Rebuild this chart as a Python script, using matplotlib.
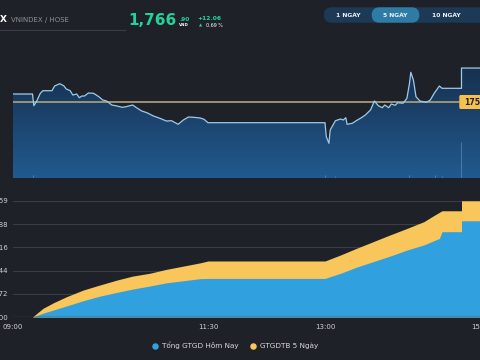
import matplotlib
matplotlib.use("Agg")
import matplotlib.pyplot as plt
import numpy as np
from matplotlib.colors import LinearSegmentedColormap
from matplotlib.patches import FancyBboxPatch

# ---- data -------------------------------------------------------------
# intraday VNINDEX (time, index points)
price_times = ["09:00", "09:15", "09:16", "09:18", "09:21", "09:23", "09:30", "09:32", "09:36",
               "09:39", "09:41", "09:44", "09:46", "09:49", "09:51", "09:53", "09:55", "09:58",
               "10:02", "10:06", "10:09", "10:12", "10:16", "10:20", "10:24", "10:27", "10:32",
               "10:35", "10:39", "10:43", "10:48", "10:53", "10:58", "11:02", "11:07", "11:11",
               "11:15", "11:19", "11:24", "11:27", "11:30", "13:00", "13:01", "13:02", "13:03",
               "13:04", "13:08", "13:12", "13:14", "13:16", "13:17", "13:21", "13:24", "13:28",
               "13:31", "13:35", "13:38", "13:41", "13:44", "13:46", "13:49", "13:51", "13:54",
               "13:56", "14:00", "14:03", "14:05", "14:06", "14:08", "14:10", "14:13", "14:18",
               "14:21", "14:24", "14:28", "14:30", "14:45", "14:45", "15:00"]
price_values = [1757.60, 1757.60, 1753.41, 1754.84, 1757.85, 1758.78, 1758.78, 1760.47, 1761.29,
                1760.57, 1759.39, 1758.78, 1757.24, 1757.60, 1756.27, 1756.88, 1756.88, 1757.96,
                1757.85, 1756.63, 1755.45, 1755.09, 1753.66, 1753.30, 1752.83, 1753.05, 1753.66,
                1752.69, 1751.51, 1750.90, 1749.72, 1748.89, 1747.92, 1748.03, 1746.74, 1748.28,
                1749.36, 1749.25, 1749.00, 1748.53, 1747.31, 1747.31, 1742.30, 1741.11, 1739.93,
                1744.70, 1748.03, 1748.64, 1748.28, 1749.11, 1746.74, 1747.10, 1748.03, 1749.11,
                1750.07, 1751.87, 1755.09, 1753.41, 1752.69, 1753.66, 1752.69, 1754.02, 1753.55,
                1754.48, 1754.27, 1756.06, 1761.43, 1765.38, 1762.62, 1756.63, 1755.09, 1754.62,
                1755.45, 1757.85, 1760.47, 1759.64, 1759.64, 1766.90, 1766.90]
ref_price = 1754.84

vol_times = ["09:15", "13:00", "13:08", "14:05", "14:25", "14:30", "14:45"]
vol_values = [3, 3, 2, 3, 3, 2, 36]

# cumulative traded value (bn VND)
avg5_times = ["09:00", "09:15", "09:23", "09:31", "09:41", "09:54", "10:07", "10:20", "10:32",
              "10:45", "10:58", "11:11", "11:24", "11:30", "13:00", "13:12", "13:24", "13:37",
              "13:50", "14:03", "14:16", "14:23", "14:30", "14:45", "14:45", "15:00"]
avg5_values = [0, 0, 2358, 3887, 5543, 7391, 8793, 10131, 11214,
               11979, 13062, 13954, 14846, 15356, 15356, 17012, 18797, 20644,
               22492, 24276, 26124, 27653, 29119, 29119, 31858.594, 31858.594]

today_times = ["09:00", "09:15", "09:23", "09:31", "09:41", "09:54", "10:07", "10:20", "10:32",
               "10:45", "10:58", "11:11", "11:24", "11:30", "13:00", "13:12", "13:24", "13:37",
               "13:50", "14:03", "14:16", "14:25", "14:28", "14:30", "14:45", "14:45", "15:00"]
today_values = [0, 0, 1019, 1912, 2995, 4460, 5735, 6754, 7646,
                8475, 9366, 9940, 10513, 10577, 10577, 11979, 13635, 15165,
                16694, 18351, 19752, 21090, 21536, 23385, 23385, 26379, 26379]

x_tick_labels = ["09:00", "11:30", "13:00", "15:00"]
legend_labels = ["Tổng GTGD Hôm Nay", "GTGDTB 5 Ngày"]
range_buttons = ["1 NGÀY", "5 NGÀY", "10 NGÀY"]

BG = '#1f2128'
GRID = '#3a3d45'
BLUE = '#31a0de'
YELLOW = '#f8c65a'
GREEN = '#22d39a'


def to_min(s):
    h, m = map(int, s.split(':'))
    return (h - 9) * 60 + m


def px_box(x0, y0, x1, y1):
    """pixel box (top-left origin) -> figure fraction rect"""
    return [x0 / 480, 1 - y1 / 360, (x1 - x0) / 480, (y1 - y0) / 360]


fig = plt.figure(figsize=(4.8, 3.6), dpi=100, facecolor=BG)

# ---- top: index line --------------------------------------------------
ax = fig.add_axes(px_box(13, 40, 481, 178))
ax.set_facecolor('none')
t = np.array([to_min(s) for s in price_times])
p = np.array(price_values)
ylo = ref_price - 76.3 * 0.3584
yhi = ref_price + 61.7 * 0.3584

cmap = LinearSegmentedColormap.from_list('grad', ['#215a8f', '#14263f'])
grad = np.linspace(0, 1, 256).reshape(-1, 1)
im = ax.imshow(grad, extent=[0, 360, ylo, yhi], origin='lower', aspect='auto',
               cmap=cmap, zorder=1)
poly = ax.fill_between(t, p, ylo, facecolor='none', linewidth=0)
im.set_clip_path(poly.get_paths()[0], transform=ax.transData)

ax.plot(t, p, color='#9dcbeb', lw=0.9, zorder=4)
ax.axhline(ref_price, color='#9a9474', lw=1.4, zorder=3)
ax.set_xlim(0, 360)
ax.set_ylim(ylo, yhi)
ax.axis('off')

axv = ax.twinx()
axv.vlines([to_min(s) for s in vol_times], 0, vol_values, color='#6f9cc6', lw=0.8, alpha=0.5)
axv.set_ylim(0, max(vol_values) / 0.26)
axv.set_xlim(0, 360)
axv.axis('off')

# ---- bottom: cumulative value ----------------------------------------
ax2 = fig.add_axes(px_box(13, 188, 481, 317))
ax2.set_facecolor('none')
step = max(avg5_values) / 5
ax2.fill_between([to_min(s) for s in avg5_times], avg5_values, 0, color=YELLOW, lw=0, zorder=2)
ax2.fill_between([to_min(s) for s in today_times], today_values, 0, color=BLUE, lw=0, zorder=3)
ax2.axhline(0, color=GRID, lw=1.0, zorder=4)
ax2.set_xlim(0, 360)
ax2.set_ylim(0, step * 5.55)
yt = [step * i for i in range(6)]
ax2.set_yticks(yt)
ax2.set_yticklabels([f'{v:,.2f}' for v in yt])
ax2.set_xticks([to_min(s) for s in x_tick_labels])
ax2.set_xticklabels(x_tick_labels)
ax2.grid(axis='y', color=GRID, lw=0.8)
ax2.set_axisbelow(True)
ax2.tick_params(length=0, labelsize=5, labelcolor='#cfd1d6')
ax2.tick_params(axis='y', pad=3.5)
ax2.tick_params(axis='x', pad=5)
for sp in ax2.spines.values():
    sp.set_visible(False)

# ---- overlay: header, buttons, legend (pixel coords) -----------------
ov = fig.add_axes([0, 0, 1, 1], zorder=10)
ov.set_xlim(0, 480)
ov.set_ylim(360, 0)
ov.axis('off')
ov.patch.set_alpha(0)

ov.text(0, 19, 'X', color='white', fontsize=6.5, fontweight='bold', va='center')
ov.text(11, 19.7, 'VNINDEX / HOSE', color='#8e9099', fontsize=5, va='center')
ov.plot([0, 125], [30, 30], color=GRID, lw=0.8)

ov.text(128, 20.2, '1,766', color=GREEN, fontsize=11, fontweight='bold', va='center')
ov.text(179, 19.5, '.90', color=GREEN, fontsize=4.2, fontweight='bold', va='center')
ov.text(179, 24.8, 'VND', color='white', fontsize=2.9, fontweight='bold', va='center')
ov.text(197.5, 19, '+12.06', color=GREEN, fontsize=4.3, fontweight='bold', va='center')
ov.text(200.5, 25.5, '▲', color=GREEN, fontsize=3, ha='center', va='center')
ov.text(206, 25.5, '0.69 %', color='white', fontsize=3.5, va='center')

# range selector pills
ov.add_patch(FancyBboxPatch((324, 7.3), 170, 15.4,
                            boxstyle='round,pad=0,rounding_size=7.7', fc='#1c3a55', ec='none'))
ov.add_patch(FancyBboxPatch((371.7, 7.3), 47.6, 15.4,
                            boxstyle='round,pad=0,rounding_size=7.7', fc='#2e7ba6', ec='none'))
for label, cx in zip(range_buttons, [348, 395.5, 446.7]):
    ov.text(cx, 15.3, label, color='#eef2f6', fontsize=4.3, fontweight='bold',
            ha='center', va='center')

# last-value tag on reference line
ov.add_patch(FancyBboxPatch((459.3, 95), 30, 14, boxstyle='round,pad=0,rounding_size=1.5',
                            fc='#f5c04c', ec='none'))
ov.text(464.5, 102.3, f'{ref_price:.2f}', color='#1f2128', fontsize=5.6,
        fontweight='bold', va='center')

# legend
for (label, color, mx) in zip(legend_labels, [BLUE, YELLOW], [155, 253]):
    ov.scatter([mx], [345.7], s=22, color=color, lw=0)
    ov.text(mx + 7.5, 345.5, label, color='#d8dade', fontsize=5.2, va='center')

plt.savefig('out.png', dpi=100, facecolor=BG)
plt.close()
